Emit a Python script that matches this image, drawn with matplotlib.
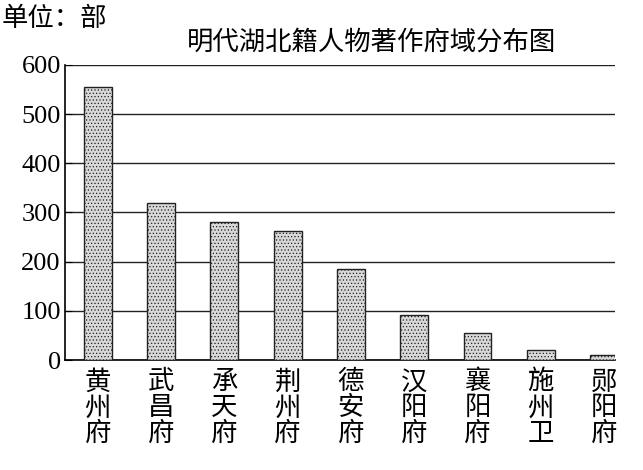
import matplotlib
matplotlib.use('Agg')
import matplotlib.pyplot as plt

plt.rcParams['font.family'] = ['Noto Sans CJK SC', 'DejaVu Sans']
plt.rcParams['hatch.color'] = '#777777'
plt.rcParams['hatch.linewidth'] = 0.5

categories = ['黄州府', '武昌府', '承天府', '荆州府', '德安府', '汉阳府', '襄阳府', '施州卫', '郧阳府']
values = [555, 319, 280, 262, 185, 91, 55, 20, 10]
yticks = [0, 100, 200, 300, 400, 500, 600]

fig = plt.figure(figsize=(6.43, 4.70), dpi=100)
ax = fig.add_axes([0.101, 0.234, 0.855, 0.628])
x = range(len(categories))
ax.bar(x, values, width=0.44, facecolor='#d8d8d8', edgecolor='#222222',
       linewidth=1.0, hatch='.....', zorder=3)
ax.set_ylim(0, 600)
ax.set_xlim(-0.52, 8.17)
ax.set_yticks(yticks)
ax.set_yticklabels([str(v) for v in yticks], family='Liberation Serif', fontsize=19)
ax.yaxis.grid(True, color='#222222', linewidth=1.0, zorder=0)
ax.set_xticks(list(x))
ax.set_xticklabels(['\n'.join(c) for c in categories], fontsize=19, linespacing=0.95, va='top')
ax.tick_params(axis='x', length=0, pad=6)
ax.tick_params(axis='y', direction='in', length=5, pad=3)
for s in ['top', 'right']:
    ax.spines[s].set_visible(False)
ax.spines['left'].set_linewidth(1.2)
ax.spines['bottom'].set_linewidth(1.2)
fig.text(0.003, 0.96, '单位：部', fontsize=19, va='center', ha='left')
fig.text(0.578, 0.91, '明代湖北籍人物著作府域分布图', fontsize=19, va='center', ha='center')
fig.savefig('out.png', dpi=100)
